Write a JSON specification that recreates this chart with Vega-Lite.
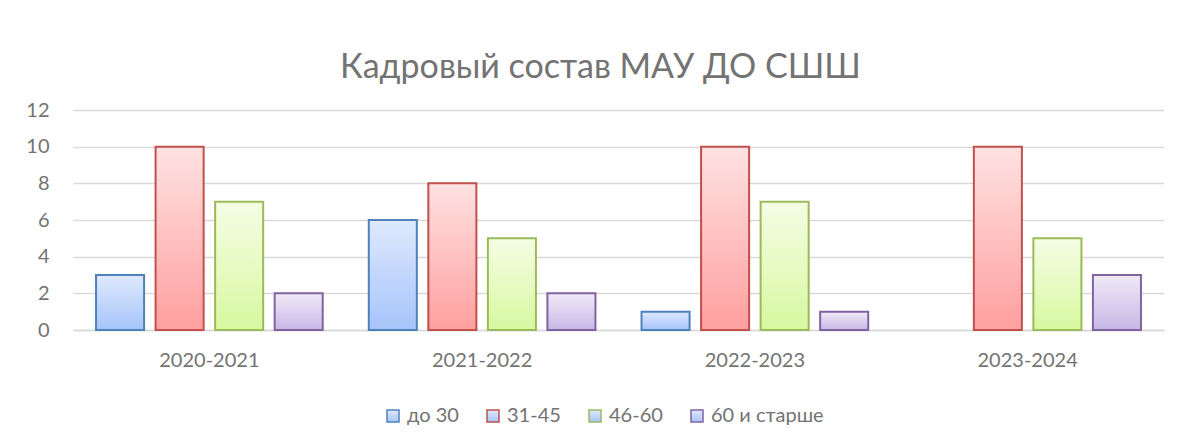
{
  "$schema": "https://vega.github.io/schema/vega-lite/v6.json",
  "autosize": "none",
  "width": 1091,
  "height": 220,
  "padding": {"left": 73, "top": 110, "right": 17, "bottom": 115},
  "background": "white",
  "config": {"view": {"stroke": null}, "font": "Lato"},
  "title": {
    "text": "Кадровый состав МАУ ДО СШШ",
    "anchor": "middle",
    "font": "Lato",
    "fontSize": 34,
    "fontWeight": "normal",
    "color": "#737373",
    "baseline": "alphabetic",
    "offset": -12,
    "dx": -18
  },
  "data": {
    "values": [
      {"year": "2020-2021", "age": "до 30", "count": 3},
      {"year": "2020-2021", "age": "31-45", "count": 10},
      {"year": "2020-2021", "age": "46-60", "count": 7},
      {"year": "2020-2021", "age": "60 и старше", "count": 2},
      {"year": "2021-2022", "age": "до 30", "count": 6},
      {"year": "2021-2022", "age": "31-45", "count": 8},
      {"year": "2021-2022", "age": "46-60", "count": 5},
      {"year": "2021-2022", "age": "60 и старше", "count": 2},
      {"year": "2022-2023", "age": "до 30", "count": 1},
      {"year": "2022-2023", "age": "31-45", "count": 10},
      {"year": "2022-2023", "age": "46-60", "count": 7},
      {"year": "2022-2023", "age": "60 и старше", "count": 1},
      {"year": "2023-2024", "age": "31-45", "count": 10},
      {"year": "2023-2024", "age": "46-60", "count": 5},
      {"year": "2023-2024", "age": "60 и старше", "count": 3}
    ]
  },
  "encoding": {
    "x": {
      "field": "year",
      "type": "nominal",
      "scale": {"paddingInner": 0, "paddingOuter": 0},
      "axis": {
        "title": null,
        "labelAngle": 0,
        "labelFont": "Lato",
        "labelFontSize": 20,
        "labelColor": "#737373",
        "labelPadding": 20,
        "ticks": false,
        "domainColor": "#d9d9d9",
        "domainWidth": 1.5,
        "grid": false
      }
    },
    "xOffset": {
      "field": "age",
      "type": "nominal",
      "scale": {"domain": ["до 30", "31-45", "46-60", "60 и старше"], "paddingInner": 0.193, "paddingOuter": 0.387}
    },
    "y": {
      "field": "count",
      "type": "quantitative",
      "scale": {"domain": [0, 12], "nice": false},
      "axis": {
        "title": null,
        "values": [0, 2, 4, 6, 8, 10, 12],
        "labelFont": "Lato",
        "labelFontSize": 20,
        "labelColor": "#737373",
        "labelPadding": 24,
        "ticks": false,
        "domain": false,
        "gridColor": "#d9d9d9",
        "gridWidth": 1.5
      }
    },
    "stroke": {
      "field": "age",
      "type": "nominal",
      "scale": {
        "domain": ["до 30", "31-45", "46-60", "60 и старше"],
        "range": ["#4f81bd", "#c0504d", "#9bbb59", "#8064a2"]
      },
      "legend": {
        "orient": "none",
        "legendX": 310,
        "legendY": 296,
        "direction": "horizontal",
        "title": null,
        "symbolType": "square",
        "symbolSize": 144,
        "symbolStrokeWidth": 1.5,
        "labelFont": "Lato",
        "labelFontSize": 20,
        "labelColor": "#737373",
        "labelOffset": 4,
        "columnPadding": 24,
        "encode": {
          "symbols": {
            "update": {
              "fill": {"signal": "datum.value === 'до 30' ? '#c6d9f8' : datum.value === '31-45' ? '#ffc4c4' : datum.value === '46-60' ? '#e9fbc4' : '#dccff0'"},
              "fillOpacity": {"value": 1}
            }
          }
        }
      }
    }
  },
  "layer": [
    {
      "transform": [{"filter": "datum.age === 'до 30'"}],
      "mark": {
        "type": "bar",
        "strokeWidth": 2,
        "fill": {"gradient": "linear", "x1": 0, "y1": 0, "x2": 0, "y2": 1,
          "stops": [{"offset": 0, "color": "#dfe9fd"}, {"offset": 1, "color": "#a6c4fa"}]}
      }
    },
    {
      "transform": [{"filter": "datum.age === '31-45'"}],
      "mark": {
        "type": "bar",
        "strokeWidth": 2,
        "fill": {"gradient": "linear", "x1": 0, "y1": 0, "x2": 0, "y2": 1,
          "stops": [{"offset": 0, "color": "#ffe2e2"}, {"offset": 1, "color": "#ff9f9f"}]}
      }
    },
    {
      "transform": [{"filter": "datum.age === '46-60'"}],
      "mark": {
        "type": "bar",
        "strokeWidth": 2,
        "fill": {"gradient": "linear", "x1": 0, "y1": 0, "x2": 0, "y2": 1,
          "stops": [{"offset": 0, "color": "#f5fde4"}, {"offset": 1, "color": "#d8f8a0"}]}
      }
    },
    {
      "transform": [{"filter": "datum.age === '60 и старше'"}],
      "mark": {
        "type": "bar",
        "strokeWidth": 2,
        "fill": {"gradient": "linear", "x1": 0, "y1": 0, "x2": 0, "y2": 1,
          "stops": [{"offset": 0, "color": "#efeaf7"}, {"offset": 1, "color": "#c8b7e6"}]}
      }
    }
  ]
}
